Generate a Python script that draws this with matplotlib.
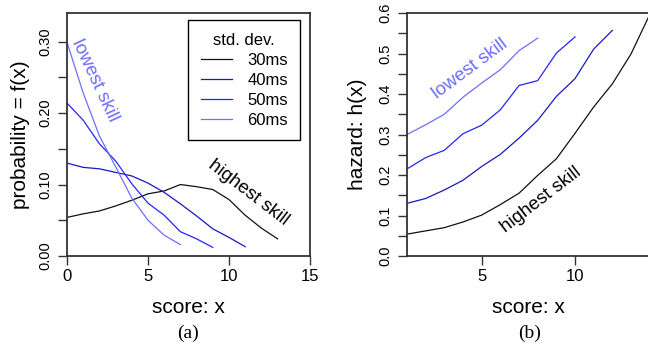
import matplotlib.pyplot as plt
import numpy as np
from matplotlib.ticker import MultipleLocator

plt.rcParams['font.family'] = ['Liberation Sans', 'DejaVu Sans']

# probability mass f(x) for each timing std. dev.
score_30 = np.arange(0, 14)
prob_30 = [0.054, 0.059, 0.063, 0.070, 0.078, 0.087, 0.091, 0.100, 0.097, 0.093,
           0.079, 0.057, 0.039, 0.024]
score_40 = np.arange(0, 12)
prob_40 = [0.130, 0.124, 0.122, 0.117, 0.112, 0.102, 0.089, 0.073, 0.056, 0.038,
           0.026, 0.013]
score_50 = np.arange(0, 10)
prob_50 = [0.214, 0.190, 0.157, 0.133, 0.101, 0.074, 0.057, 0.034, 0.024, 0.012]
score_60 = np.arange(0, 8)
prob_60 = [0.299, 0.228, 0.168, 0.125, 0.081, 0.050, 0.029, 0.016]

# hazard h(x)
hscore_30 = np.arange(1, 15)
haz_30 = [0.054, 0.062, 0.070, 0.084, 0.101, 0.127, 0.155, 0.199, 0.240, 0.303,
          0.368, 0.425, 0.499, 0.596]
hscore_40 = np.arange(1, 13)
haz_40 = [0.130, 0.142, 0.163, 0.187, 0.221, 0.251, 0.291, 0.335, 0.394, 0.438,
          0.511, 0.557]
hscore_50 = np.arange(1, 11)
haz_50 = [0.215, 0.243, 0.261, 0.302, 0.323, 0.361, 0.421, 0.433, 0.501, 0.541]
hscore_60 = np.arange(1, 9)
haz_60 = [0.300, 0.324, 0.350, 0.392, 0.427, 0.460, 0.507, 0.538]

labels = ['30ms', '40ms', '50ms', '60ms']
colors = ['#111111', '#1818c4', '#2424ff', '#6e6eff']

fig = plt.figure(figsize=(6.48, 3.44), dpi=100)
ax1 = fig.add_axes([67 / 648, 88 / 344, 243 / 648, 243 / 344])
ax2 = fig.add_axes([407 / 648, 88 / 344, 242.7 / 648, 243 / 344])

edge = '#333333'
for ax in (ax1, ax2):
    for s in ax.spines.values():
        s.set_color(edge)
        s.set_linewidth(1.3)
    ax.tick_params(which='both', length=6.5, width=1.0, color=edge,
                   labelsize=12, pad=3)
    ax.tick_params(axis='y', which='both', labelsize=10.5, pad=4)

# (a) probability
series_f = [(score_30, prob_30), (score_40, prob_40), (score_50, prob_50), (score_60, prob_60)]
handles = []
for (x, y), c, lab in zip(series_f, colors, labels):
    h, = ax1.plot(x, y, color=c, lw=0.9, label=lab)
    handles.append(h)
ax1.set_xlim(0, 15)
ax1.set_ylim(0, 0.34)
ax1.set_xticks([0, 5, 10, 15])
ax1.yaxis.set_minor_locator(MultipleLocator(0.05))
ax1.set_yticks([0.0, 0.1, 0.2, 0.3])
ax1.set_yticklabels(['0.00', '0.10', '0.20', '0.30'], rotation=90, va='center')
ax1.set_xlabel('score: x', fontsize=15)
ax1.xaxis.set_label_coords(0.5, -0.21)
ax1.xaxis.label.set_va('center')
ax1.set_ylabel('probability = f(x)', fontsize=15)
ax1.yaxis.set_label_coords(-0.193, 0.5)
ax1.yaxis.label.set_va('center')

ax1.text(1.73, 0.245, 'lowest skill', color=colors[3], fontsize=13.5,
         rotation=-65, ha='center', va='center', rotation_mode='anchor')
ax1.text(11.17, 0.088, 'highest skill', color='black', fontsize=13.5,
         rotation=-37.5, ha='center', va='center', rotation_mode='anchor')

leg = ax1.legend(handles=handles, title='std. dev.', loc='upper left',
                 bbox_to_anchor=(0.498, 0.971), fontsize=12, title_fontsize=12,
                 fancybox=False, edgecolor='black', framealpha=1,
                 handlelength=1.9, handletextpad=0.9, labelspacing=0.3,
                 borderpad=0.75, borderaxespad=0)
leg.get_frame().set_linewidth(1.0)

# (b) hazard
series_h = [(hscore_30, haz_30), (hscore_40, haz_40), (hscore_50, haz_50), (hscore_60, haz_60)]
for (x, y), c in zip(series_h, colors):
    ax2.plot(x, y, color=c, lw=0.9)
ax2.set_xlim(1, 14)
ax2.set_ylim(0, 0.6)
ax2.set_xticks([5, 10])
ax2.yaxis.set_minor_locator(MultipleLocator(0.05))
ax2.set_yticks([0.0, 0.1, 0.2, 0.3, 0.4, 0.5, 0.6])
ax2.set_yticklabels(['0.0', '0.1', '0.2', '0.3', '0.4', '0.5', '0.6'], rotation=90, va='center')
ax2.set_xlabel('score: x', fontsize=15)
ax2.xaxis.set_label_coords(0.5, -0.21)
ax2.xaxis.label.set_va('center')
ax2.set_ylabel('hazard: h(x)', fontsize=15)
ax2.yaxis.set_label_coords(-0.202, 0.5)
ax2.yaxis.label.set_va('center')

ax2.text(4.37, 0.462, 'lowest skill', color=colors[3], fontsize=13.5,
         rotation=36.6, ha='center', va='center', rotation_mode='anchor')
ax2.text(8.18, 0.138, 'highest skill', color='black', fontsize=13.5,
         rotation=37.6, ha='center', va='center', rotation_mode='anchor')

fig.text(188.5 / 648, 1 - 333 / 344, '(a)', family='Liberation Serif', fontsize=14,
         ha='center', va='center')
fig.text(530 / 648, 1 - 333 / 344, '(b)', family='Liberation Serif', fontsize=14,
         ha='center', va='center')

fig.savefig('out.png', dpi=100)
